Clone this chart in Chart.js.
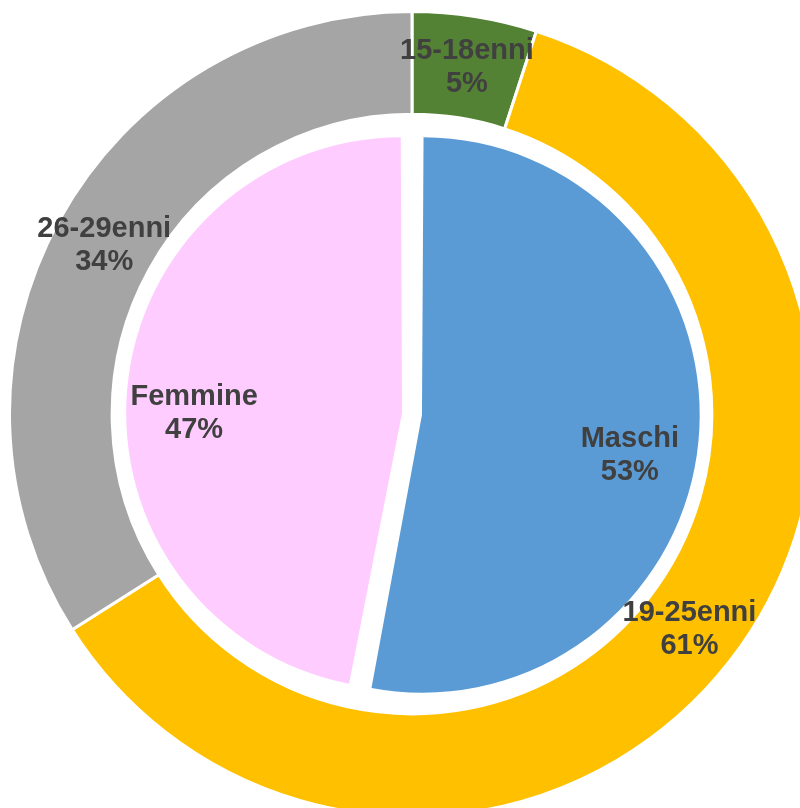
<!DOCTYPE html>
<html>
<head>
<meta charset="utf-8">
<script src="https://cdn.jsdelivr.net/npm/chart.js@4.4.1/dist/chart.umd.min.js"></script>
<style>
  html, body { margin: 0; padding: 0; background: #fff; overflow: hidden; }
  #wrap { position: absolute; left: 8px; top: 10px; width: 808px; height: 808px; }
</style>
</head>
<body>
<div id="wrap"><canvas id="pieChart" width="808" height="808"></canvas></div>
<script>
// Anello esterno: fasce d'età
let etaLabels = ["15-18enni", "19-25enni", "26-29enni"];
let etaValues = [5, 61, 34];
let etaColors = ["#548235", "#FFC000", "#A5A5A5"];

// Torta interna: genere
let genereLabels = ["Maschi", "Femmine"];
let genereValues = [53, 47];
let genereColors = ["#5B9BD5", "#FFCCFF"];

// anello vuoto tra torta e anello esterno
let spacerValues = [1];

// etichette dentro le fette (nome + percentuale)
const sliceLabels = {
    id: "sliceLabels",
    afterDatasetsDraw(chart) {
        const ctx = chart.ctx;
        ctx.save();
        ctx.fillStyle = "#404040";
        ctx.font = "bold 29px 'Liberation Sans', Arial, sans-serif";
        ctx.textAlign = "center";
        ctx.textBaseline = "middle";
        chart.data.datasets.forEach((ds, di) => {
            if (!ds.showLabels) return;
            const meta = chart.getDatasetMeta(di);
            meta.data.forEach((arc, i) => {
                const p = arc.getProps(["x", "y", "startAngle", "endAngle", "innerRadius", "outerRadius"], true);
                const mid = (p.startAngle + p.endAngle) / 2;
                const off = (arc.options.offset || 0) / 4;
                let r;
                if (p.innerRadius > 0) r = (p.innerRadius + p.outerRadius) / 2;
                else r = p.outerRadius * 0.78 + off;
                const cx = p.x + Math.cos(mid) * r;
                const cy = p.y + Math.sin(mid) * r + (ds.labelShiftY || 0);
                ctx.fillText(ds.labels[i], cx, cy - 16);
                ctx.fillText(ds.data[i] + "%", cx, cy + 17);
            });
        });
        ctx.restore();
    }
};

new Chart("pieChart", {
    type: "pie",
    data: {
        datasets: [{
            data: etaValues,
            labels: etaLabels,
            backgroundColor: etaColors,
            borderColor: "#fff",
            borderWidth: 3,
            hoverBorderWidth: 3,
            weight: 255,
            showLabels: true
        }, {
            data: spacerValues,
            backgroundColor: "rgba(0,0,0,0)",
            borderWidth: 0,
            weight: 45
        }, {
            data: genereValues,
            labels: genereLabels,
            backgroundColor: genereColors,
            borderWidth: 0,
            offset: 40,
            hoverOffset: 40,
            weight: 700,
            showLabels: true,
            labelShiftY: 20
        }]
    },
    options: {
        responsive: false,
        animation: false,
        events: [],
        layout: {padding: 0},
        plugins: {
            legend: {display: false},
            tooltip: {enabled: false}
        }
    },
    plugins: [sliceLabels]
});
</script>
</body>
</html>
